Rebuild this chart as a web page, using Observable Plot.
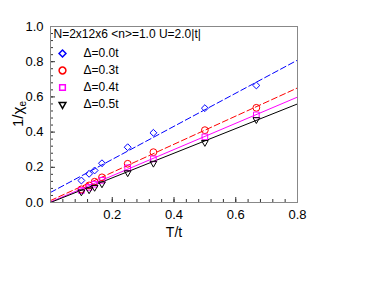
<!DOCTYPE html>
<html>
<head>
<meta charset="utf-8">
<script src="https://cdn.jsdelivr.net/npm/d3@7"></script>
<script src="https://cdn.jsdelivr.net/npm/@observablehq/plot@0.6"></script>
<style>
  html, body { margin: 0; padding: 0; background: #fff; }
  #chart svg { display: block; }
</style>
</head>
<body>
<div id="chart"></div>
<script>
// ---- data ----
const temps = [0.1, 0.125, 0.1429, 0.1667, 0.25, 0.3333, 0.5, 0.6667];
const seriesNames = ["Δ=0.0t", "Δ=0.3t", "Δ=0.4t", "Δ=0.5t"];
const invChi00 = [0.125, 0.163, 0.182, 0.223, 0.314, 0.396, 0.536, 0.665];
const invChi03 = [0.075, 0.097, 0.118, 0.143, 0.220, 0.286, 0.411, 0.538];
const invChi04 = [0.068, 0.086, 0.104, 0.126, 0.197, 0.248, 0.373, 0.498];
const invChi05 = [0.060, 0.072, 0.086, 0.106, 0.169, 0.223, 0.341, 0.471];
const fitIntercepts = [0.057, 0.011, 0.003, 0.0];
const fitSlopes = [0.94, 0.80, 0.745, 0.70];
const headerText = "N=2x12x6 <n>=1.0 U=2.0|t|";
const xTickValues = [0.2, 0.4, 0.6, 0.8];
const yTickValues = [0.0, 0.2, 0.4, 0.6, 0.8, 1.0];

// ---- styles ----
const colors = ["#0000ff", "#ff0000", "#ff00ff", "#000000"];
const symbols = ["diamond2", "circle", "square2", "triangle"];
const rotates = [0, 0, 0, 180];
const radii = [3.1, 3.4, 3.6, 2.5];
const dashes = ["6,3", "6,3", null, null];

const xDomain = [0, 0.8];
const yDomain = [0, 1.0];

const allY = [invChi00, invChi03, invChi04, invChi05];
const points = [];
allY.forEach((ys, s) => ys.forEach((v, i) => points.push({s, T: temps[i], v})));
const fitLines = [];
fitIntercepts.forEach((b, s) => xDomain.forEach(x => fitLines.push({s, T: x, v: b + fitSlopes[s] * x})));

const legend = seriesNames.map((name, s) => ({s, name}));

const marks = [];
for (let s = 0; s < 4; s++) {
  marks.push(Plot.line(fitLines.filter(d => d.s === s), {
    x: "T", y: "v", stroke: colors[s], strokeWidth: 1,
    strokeDasharray: dashes[s] || undefined, clip: true
  }));
}
for (let s = 0; s < 4; s++) {
  marks.push(Plot.dot(points.filter(d => d.s === s), {
    x: "T", y: "v", symbol: () => symbols[s], r: radii[s],
    stroke: colors[s], fill: "none", strokeWidth: 1, rotate: rotates[s]
  }));
}
marks.push(Plot.axisX(xTickValues, {tickSize: -5, tickPadding: 12, fontSize: 13, stroke: "#333", color: "#000", label: null}));
marks.push(Plot.axisX(d3.range(0, 0.8001, 0.04), {tickSize: -3, text: null, stroke: "#333", label: null}));
marks.push(Plot.axisY(yTickValues, {tickSize: -5, tickPadding: 12, fontSize: 13, stroke: "#333", tickFormat: d3.format(".1f"), label: null}));
marks.push(Plot.axisY(d3.range(0, 1.0001, 0.04), {tickSize: -3, text: null, stroke: "#333", label: null}));
marks.push(Plot.frame({stroke: "#888", strokeWidth: 1}));
marks.push(Plot.text([headerText], {frameAnchor: "top-left", text: d => d, dx: 3, dy: 8, textAnchor: "start", lineAnchor: "middle", fontSize: 12, fill: "#000"}));
legend.forEach((d, i) => {
  marks.push(Plot.dot([d], {frameAnchor: "top-left", dx: 12, dy: 27 + 17 * i, symbol: () => symbols[d.s], r: radii[d.s], stroke: colors[d.s], fill: "none", rotate: rotates[d.s]}));
  marks.push(Plot.text([d], {frameAnchor: "top-left", text: "name", dx: 33, dy: 27 + 17 * i, textAnchor: "start", lineAnchor: "middle", fontSize: 12, fill: "#000"}));
});
marks.push(Plot.text(["T/t"], {frameAnchor: "bottom", text: d => d, dy: 30, lineAnchor: "middle", fontSize: 14, fill: "#000"}));

const chart = Plot.plot({
  width: 381,
  height: 284,
  marginLeft: 50,
  marginRight: 84,
  marginTop: 26,
  marginBottom: 82,
  style: {fontFamily: "'Liberation Sans', Arial, sans-serif", background: "#fff"},
  x: {domain: xDomain, axis: null},
  y: {domain: yDomain, axis: null},
  marks
});
document.getElementById("chart").appendChild(chart);

const svg = d3.select(chart);
const yl = svg.append("text")
  .attr("transform", "translate(23,114) rotate(-90)")
  .attr("text-anchor", "middle")
  .attr("font-size", 15)
  .attr("font-family", "'Liberation Sans', Arial, sans-serif")
  .attr("fill", "#000");
yl.append("tspan").text("1/χ");
yl.append("tspan").attr("font-size", 10).attr("dy", 3).text("e");
</script>
</body>
</html>
